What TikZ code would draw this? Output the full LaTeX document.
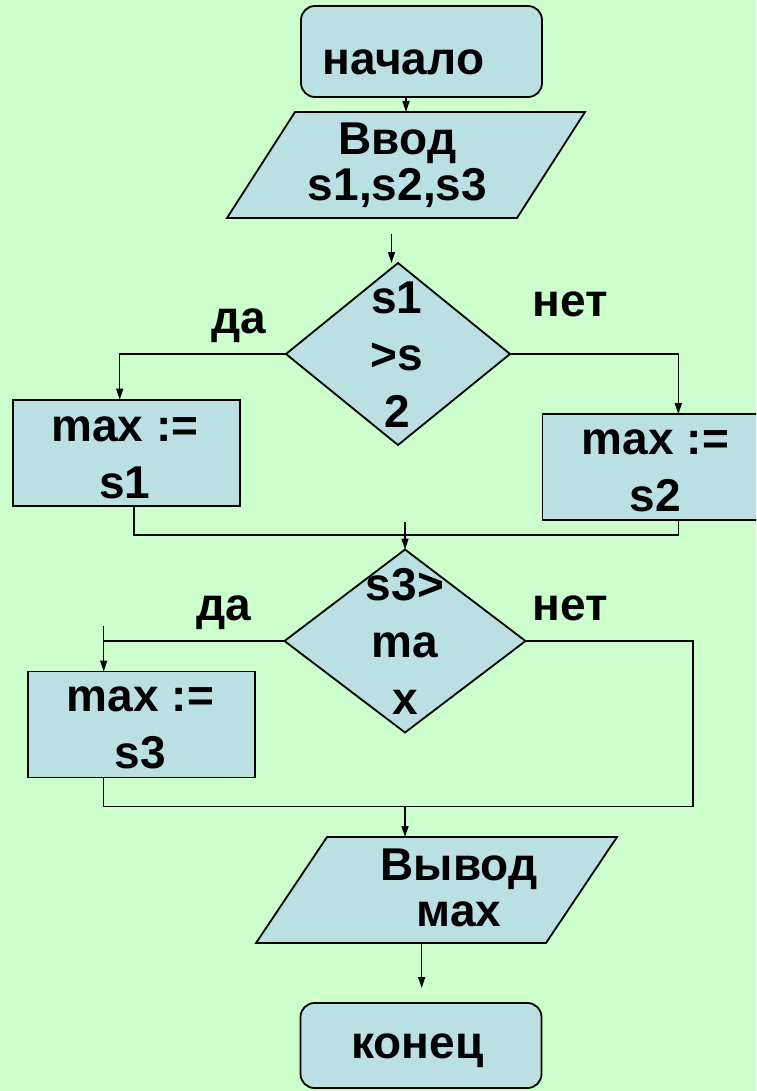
\documentclass[tikz,border=0pt]{standalone}
\usepackage{fontspec}
\setmainfont{Liberation Sans}
\usetikzlibrary{shapes.geometric,arrows.meta}
\definecolor{bggreen}{HTML}{CCFFCC}
\definecolor{boxfill}{HTML}{BBE0E3}
\newcommand{\upstrut}{\rule{0pt}{36pt}}
\newcommand{\dnstrut}{\rule[-12pt]{0pt}{12pt}}
\tikzset{
  >={Triangle[length=11pt,width=7pt]},
  block/.style={draw=black, fill=boxfill, line width=1.8pt, inner sep=0pt, outer sep=0pt},
  term/.style={block, rectangle, rounded corners=14pt, minimum width=241pt},
  proc/.style={block, rectangle, minimum width=227pt, minimum height=106pt},
  decide/.style={block, diamond},
  flow/.style={line width=1.5pt},
  txt/.style={font=\bfseries\fontsize{46}{57}\selectfont, align=center, inner sep=0pt},
  iotxt/.style={txt, font=\bfseries\fontsize{46}{46}\selectfont},
  lbl/.style={font=\bfseries\fontsize{46}{46}\selectfont, inner sep=0pt, anchor=base}
}
\begin{document}
\begin{tikzpicture}[x=1pt,y=1pt]
    % Page and background
    \useasboundingbox (0,0) rectangle (756,-1091);
    \fill[bggreen] (0,0) rectangle (756,-1091);
    \clip (0,0) rectangle (756,-1091);

    % Blocks
    \node[term, minimum height=91pt] (start) at (421.5,-51.5) {};
    \draw[block] (295,-112) -- (585,-112) -- (517,-218) -- (227,-218) -- cycle;
    \node[decide, minimum width=224pt, minimum height=182pt] (q1) at (398,-354) {};
    \node[proc] (a1) at (126.7,-452.7) {};
    \node[proc] (a2) at (656,-467.2) {};
    \node[decide, minimum width=241pt, minimum height=183pt] (q2) at (405,-641) {};
    \node[proc] (a3) at (141.3,-724.5) {};
    \draw[block] (327,-837) -- (617,-837) -- (546,-943) -- (256,-943) -- cycle;
    \node[term, minimum height=85pt] (stop) at (421,-1045.5) {};

    % Connector ends
    \coordinate (inN) at (406,-112);
    \coordinate (inS) at (391.5,-234);
    \coordinate (m1) at (678.3,-535);
    \coordinate (m1top) at (405,-521.7);
    \coordinate (y2) at (103.7,-641);
    \coordinate (m2) at (693,-806.7);
    \coordinate (outN) at (405,-837);
    \coordinate (outS) at (421.7,-943);
    \coordinate (stopN) at (421.7,-988);

    % Connectors
    \draw[flow,->] (start.south -| inN) -- (inN);
    \draw[flow,->] (inS) -- (inS |- q1.north);
    \draw[flow,->] (q1.west) -| ([xshift=-7pt]a1.north);
    \draw[flow,->] (q1.east) -| ([xshift=22.3pt]a2.north);
    \draw[flow] ([xshift=7.3pt]a1.south) |- (m1) -- (m1 |- a2.south);
    \draw[flow,->] (m1top) -- (m1top |- q2.north);
    \draw[flow] (q2.west) -- (y2);
    \draw[flow,->] ([yshift=15pt]y2) -- (y2 |- a3.north);
    \draw[flow] (y2 |- a3.south) |- (m2) |- (q2.east);
    \draw[flow,->] (outN |- m2) -- (outN);
    \draw[flow,->] (outS) -- (stopN);

    % Texts
    \node[lbl] (tstart) at (403.5,-75) {начало};
    \node[iotxt] (tin) at (397.5,-165.5) {\upstrut Ввод\\ s1,s2,s3\dnstrut};
    \node[txt] (tq1) at (397,-358.5) {\upstrut s1\\ >s\\ 2\dnstrut};
    \node[txt] (ta1) at (125,-458) {\upstrut max :=\\ s1\dnstrut};
    \node[txt] (ta2) at (655.5,-471.3) {\upstrut max :=\\ s2\dnstrut};
    \node[txt] (tq2) at (405,-645.5) {\upstrut s3>\\ ma\\ x\dnstrut};
    \node[txt] (ta3) at (140.5,-727.7) {\upstrut max :=\\ s3\dnstrut};
    \node[iotxt] (tout) at (459,-891.3) {\upstrut Вывод\\ мах\dnstrut};
    \node[lbl] (tstop) at (417.5,-1058.3) {конец};
    \node[lbl] (yes1) at (239,-333) {да};
    \node[lbl] (no1) at (570,-316.7) {нет};
    \node[lbl] (yes2) at (224,-620) {да};
    \node[lbl] (no2) at (570,-620) {нет};
\end{tikzpicture}
\end{document}
